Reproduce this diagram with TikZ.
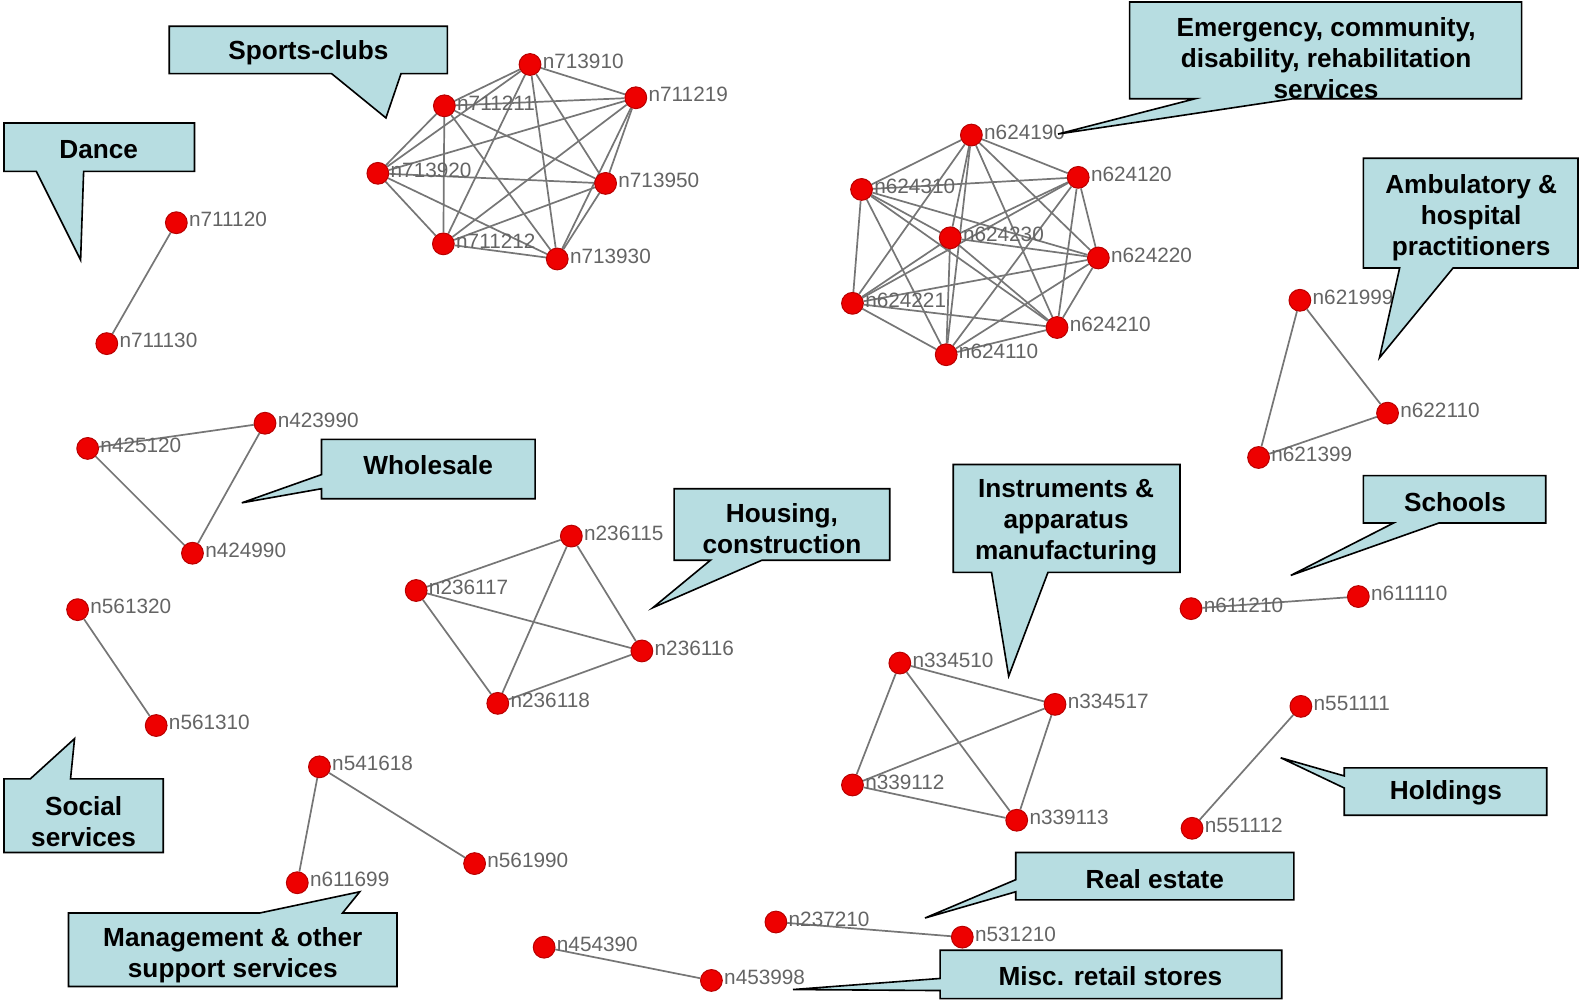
\documentclass[tikz,border=0pt]{standalone}
\usepackage{fontspec}
\setmainfont{Liberation Sans}
\usetikzlibrary{backgrounds}

\definecolor{callfill}{RGB}{183,221,225}
\definecolor{edgegray}{RGB}{118,118,118}
\definecolor{dotred}{RGB}{238,0,0}
\definecolor{dotrim}{RGB}{185,0,0}
\definecolor{lblgray}{RGB}{100,100,100}

\tikzset{
  dot/.style={circle, fill=dotred, draw=dotrim, line width=0.5pt,
    minimum size=10.8pt, inner sep=0pt, label distance=1.5pt},
  lbl/.style={text=lblgray, font=\fontsize{10.3}{12}\selectfont,
    inner sep=0.5pt, yshift=1.5pt},
  edge/.style={draw=edgegray, line width=0.85pt},
  callout/.style={fill=callfill, draw=black, line width=0.8pt, line join=miter},
  calltext/.style={font=\bfseries\fontsize{13}{15.3}\selectfont,
    align=center, text=black, inner sep=0pt},
}

% a graph vertex: red dot named n<code>, labelled with its code
\newcommand\gnode[3]{\node[dot, label={[lbl]east:n#1}] (n#1) at (#2,#3) {};}

\begin{document}
\begin{tikzpicture}[x=0.5pt, y=-0.5pt]
\useasboundingbox (0,0) rectangle (1568,993);

% ---------- vertices ----------
% sports clubs
\gnode{713910}{526}{64}
\gnode{711219}{631}{97}
\gnode{711211}{441}{105}
\gnode{713920}{375}{172}
\gnode{713950}{601}{182}
\gnode{711212}{440}{242}
\gnode{713930}{553}{257}
% emergency / community services
\gnode{624190}{964}{134}
\gnode{624120}{1070}{176}
\gnode{624310}{855}{188}
\gnode{624230}{943}{236}
\gnode{624220}{1090}{256}
\gnode{624221}{846}{301}
\gnode{624210}{1049}{325}
\gnode{624110}{939}{352}
% ambulatory
\gnode{621999}{1290}{298}
\gnode{622110}{1377}{410}
\gnode{621399}{1249}{454}
% dance
\gnode{711120}{175}{221}
\gnode{711130}{106}{341}
% wholesale
\gnode{423990}{263}{420}
\gnode{425120}{87}{445}
\gnode{424990}{191}{549}
% social services
\gnode{561320}{77}{605}
\gnode{561310}{155}{720}
% housing
\gnode{236115}{567}{532}
\gnode{236117}{413}{586}
\gnode{236116}{637}{646}
\gnode{236118}{494}{698}
% instruments
\gnode{334510}{893}{658}
\gnode{334517}{1047}{699}
\gnode{339112}{846}{779}
\gnode{339113}{1009}{814}
% schools
\gnode{611210}{1182}{604}
\gnode{611110}{1348}{592}
% holdings
\gnode{551111}{1291}{701}
\gnode{551112}{1183}{822}
% management
\gnode{541618}{317}{761}
\gnode{561990}{471}{857}
\gnode{611699}{295}{876}
% real estate
\gnode{237210}{770}{915}
\gnode{531210}{955}{930}
% retail
\gnode{454390}{540}{940}
\gnode{453998}{706}{973}

% ---------- edges ----------
\begin{scope}[on background layer]
  % complete cliques
  \foreach \i [count=\ci] in {713910,711219,711211,713920,713950,711212,713930}
    \foreach \j [count=\cj] in {713910,711219,711211,713920,713950,711212,713930}
      {\ifnum\ci<\cj \draw[edge] (n\i) -- (n\j);\fi}
  \foreach \i [count=\ci] in {624190,624120,624310,624230,624220,624221,624210,624110}
    \foreach \j [count=\cj] in {624190,624120,624310,624230,624220,624221,624210,624110}
      {\ifnum\ci<\cj \draw[edge] (n\i) -- (n\j);\fi}
  \foreach \i [count=\ci] in {236115,236117,236116,236118}
    \foreach \j [count=\cj] in {236115,236117,236116,236118}
      {\ifnum\ci<\cj \draw[edge] (n\i) -- (n\j);\fi}
  \foreach \i [count=\ci] in {334510,334517,339112,339113}
    \foreach \j [count=\cj] in {334510,334517,339112,339113}
      {\ifnum\ci<\cj \draw[edge] (n\i) -- (n\j);\fi}
  % triangles and pairs
  \draw[edge] (n621999) -- (n622110) -- (n621399) -- (n621999);
  \draw[edge] (n423990) -- (n425120) -- (n424990) -- (n423990);
  \draw[edge] (n711120) -- (n711130);
  \draw[edge] (n561320) -- (n561310);
  \draw[edge] (n611210) -- (n611110);
  \draw[edge] (n551111) -- (n551112);
  \draw[edge] (n541618) -- (n611699);
  \draw[edge] (n541618) -- (n561990);
  \draw[edge] (n237210) -- (n531210);
  \draw[edge] (n454390) -- (n453998);
\end{scope}

% ---------- callouts ----------
\draw[callout] (168,26) -- (444,26) -- (444,73) -- (398,73) -- (383,117) -- (329,73) -- (168,73) -- cycle;
\node[calltext] (tSports) at (306,52) {Sports-clubs};

\draw[callout] (4,122) -- (193,122) -- (193,170) -- (83,170) -- (80,258) -- (36,170) -- (4,170) -- cycle;
\node[calltext] (tDance) at (98,148) {Dance};

\draw[callout] (1121,2) -- (1510,2) -- (1510,98) -- (1283,98) -- (1050,133) -- (1186,98) -- (1121,98) -- cycle;
\node[calltext] (tEmerg) at (1316,58) {Emergency, community,\\disability, rehabilitation\\services};

\draw[callout] (1353,157) -- (1566,157) -- (1566,266) -- (1442,266) -- (1369,355) -- (1389,266) -- (1353,266) -- cycle;
\node[calltext] (tAmbul) at (1460,216) {Ambulatory \&\\hospital\\practitioners};

\draw[callout] (319,436) -- (531,436) -- (531,495) -- (319,495) -- (319,485) -- (240,499) -- (319,471) -- cycle;
\node[calltext] (tWhole) at (425,462) {Wholesale};

\draw[callout] (669,485) -- (883,485) -- (883,556) -- (756,556) -- (648,603) -- (705,556) -- (669,556) -- cycle;
\node[calltext] (tHousing) at (776,525) {Housing,\\construction};

\draw[callout] (946,461) -- (1171,461) -- (1171,568) -- (1040,568) -- (1001,671) -- (984,568) -- (946,568) -- cycle;
\node[calltext] (tInstr) at (1058,518) {Instruments \&\\apparatus\\manufacturing};

\draw[callout] (1353,472) -- (1534,472) -- (1534,519) -- (1428,519) -- (1281,571) -- (1383,519) -- (1353,519) -- cycle;
\node[calltext] (tSchools) at (1444,498) {Schools};

\draw[callout] (1334,762) -- (1535,762) -- (1535,809) -- (1334,809) -- (1334,782) -- (1271,752) -- (1334,770) -- cycle;
\node[calltext] (tHold) at (1435,787) {Holdings};

\draw[callout] (4,773) -- (30,773) -- (74,733) -- (70,773) -- (162,773) -- (162,846) -- (4,846) -- cycle;
\node[calltext] (tSocial) at (83,815) {Social\\services};

\draw[callout] (68,906) -- (258,906) -- (357,885) -- (340,906) -- (394,906) -- (394,979) -- (68,979) -- cycle;
\node[calltext] (tManage) at (231,948) {Management \& other\\support services};

\draw[callout] (1008,846) -- (1284,846) -- (1284,893) -- (1008,893) -- (1008,885) -- (918,911) -- (1008,873) -- cycle;
\node[calltext] (tReal) at (1146,872) {Real estate};

\draw[callout] (933,943) -- (1272,943) -- (1272,991) -- (933,991) -- (933,983) -- (787,982) -- (933,971) -- cycle;
\node[calltext] (tRetail) at (1102,969) {Misc. retail stores};

\end{tikzpicture}
\end{document}
